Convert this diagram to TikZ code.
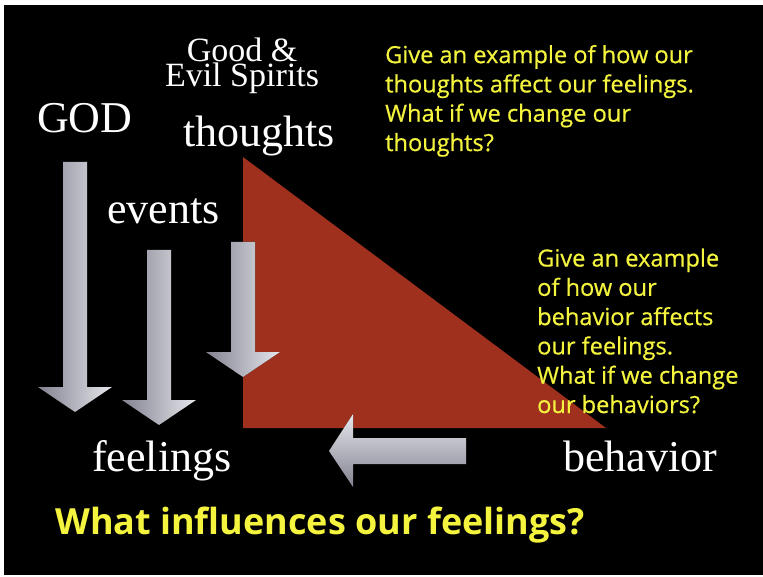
\documentclass[tikz,border=0pt]{standalone}
\usepackage{fontspec}
\setmainfont{Liberation Serif}
\newfontfamily\questfont{Open Sans}
\definecolor{brique}{RGB}{160,48,30}
\definecolor{jaune}{RGB}{244,244,62}
\definecolor{grisclair}{RGB}{230,230,236}
\definecolor{grisfonce}{RGB}{130,130,145}
\begin{document}
\begin{tikzpicture}[x=1pt, y=-1pt]
\tikzstyle{mot} = [white, font=\fontsize{44}{44}\selectfont, inner sep=0pt, anchor=base west]
\tikzstyle{question} = [jaune, font=\questfont\addfontfeature{FakeBold=0.6}\fontsize{23.6}{29.3}\selectfont, align=left, inner sep=0pt, anchor=base west]
\tikzstyle{titre} = [jaune, font=\questfont\bfseries\fontsize{36}{36}\selectfont, inner sep=0pt, anchor=base west]
\tikzstyle{flechev} = [left color=grisfonce, right color=grisclair]
\tikzstyle{flecheh} = [top color=grisclair, bottom color=grisfonce]
\useasboundingbox (0,0) rectangle (763,577);
\fill[white] (0,0) rectangle (763,577);
\fill[black] (4,5) rectangle (763,575);
\fill[brique] (243,157) -- (243,428) -- (606,428) -- cycle;
\fill[flechev] (63,162) -- (87,162) -- (87,387) -- (112,387) -- (75,412) -- (38,387) -- (63,387) -- cycle;
\fill[flechev] (147,250) -- (171,250) -- (171,400) -- (196,400) -- (159,425) -- (122,400) -- (147,400) -- cycle;
\fill[flechev] (231,242) -- (255,242) -- (255,352) -- (280,352) -- (243,377) -- (206,352) -- (231,352) -- cycle;
\fill[flecheh] (466,438) -- (466,464) -- (353,464) -- (353,487) -- (329,451) -- (353,414) -- (353,438) -- cycle;
\node[white, font=\fontsize{34}{25}\selectfont, align=center, inner sep=0pt, anchor=base] (spirits) at (242,87) {Good \&\\Evil Spirits};
\node[mot] (god) at (37,133) {GOD};
\node[mot] (thoughts) at (183,147) {thoughts};
\node[mot] (events) at (107,224) {events};
\node[mot] (feelings) at (92,471) {feelings};
\node[mot] (behavior) at (563,471) {behavior};
\node[question] (q1) at (385,151) {Give an example of how our\\thoughts affect our feelings.\\What if we change our\\thoughts?};
\node[question] (q2) at (537,413) {Give an example\\of how our\\behavior affects\\our feelings.\\What if we change\\our behaviors?};
\node[titre] (title) at (55,534) {What influences our feelings?};
\end{tikzpicture}
\end{document}
